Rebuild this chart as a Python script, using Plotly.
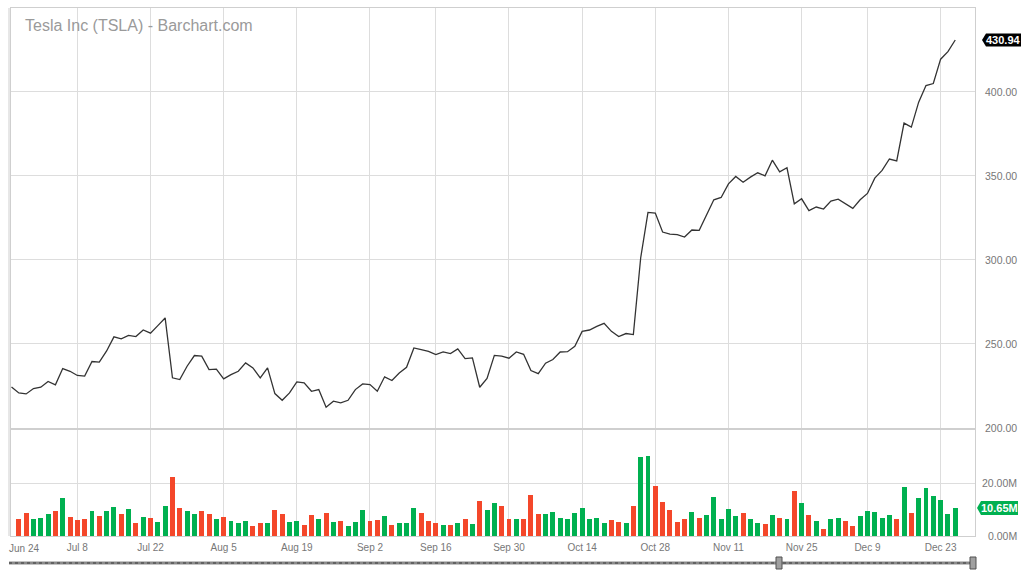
import pandas as pd
import plotly.graph_objects as go

# ---------------- data ----------------
title_text = "Tesla Inc (TSLA) - Barchart.com"
holidays = ["2024-07-04", "2024-09-02", "2024-11-28", "2024-12-25"]
all_days = pd.bdate_range("2024-06-24", "2024-12-26")
dates = [d for d in all_days if d.strftime("%Y-%m-%d") not in holidays]

close = [
    224.2, 220.6, 220.0, 223.2, 224.0, 227.4, 225.4, 235.1, 233.5, 231.0,
    230.6, 239.3, 239.0, 245.6, 254.0, 252.8, 254.9, 254.2, 258.1, 256.2,
    260.7, 265.3, 229.6, 228.6, 236.5, 242.9, 242.5, 234.5, 234.8, 229.0,
    231.5, 233.5, 238.5, 235.5, 229.6, 235.5, 220.2, 216.2, 220.6, 227.2,
    226.6, 221.6, 222.6, 212.1, 215.7, 214.7, 216.2, 222.6, 226.0, 225.6,
    221.6, 230.2, 228.0, 232.5, 235.9, 247.4, 246.4, 245.4, 243.5, 245.0,
    244.0, 246.8, 241.1, 241.5, 224.0, 229.2, 243.0, 242.5, 241.3, 245.0,
    243.6, 233.9, 232.1, 238.3, 240.5, 245.0, 245.2, 248.4, 257.3, 258.1,
    260.3, 262.1, 257.3, 254.2, 256.0, 255.4, 301.0, 328.2, 327.8, 316.5,
    315.3, 314.9, 313.5, 317.7, 317.5, 326.8, 335.7, 337.1, 345.2, 349.6,
    346.2, 349.2, 351.8, 350.0, 359.3, 352.4, 354.8, 333.3, 336.3, 329.2,
    331.4, 330.2, 334.9, 336.1, 333.3, 330.6, 335.7, 339.5, 348.6, 353.2,
    360.0, 358.9, 381.4, 379.0, 393.9, 403.8, 405.0, 419.5, 424.0, 430.94,
]

volume_m = [
    None, 6.37, 8.66, 6.63, 7.01, 8.28, 9.43, 14.39, 7.39, 6.12,
    6.37, 9.43, 7.77, 9.43, 10.95, 8.28, 10.06, 4.97, 7.39, 7.01,
    5.36, 11.34, 22.53, 10.45, 9.43, 8.28, 9.43, 8.28, 6.37, 7.39,
    5.61, 4.97, 5.61, 3.96, 4.97, 4.97, 9.81, 8.28, 5.36, 5.61,
    4.34, 8.03, 6.63, 8.66, 5.36, 5.61, 3.70, 5.36, 9.81, 5.61,
    5.99, 7.65, 4.34, 4.97, 4.97, 10.45, 8.66, 5.61, 4.97, 4.34,
    4.34, 4.97, 6.63, 4.59, 13.12, 9.81, 12.36, 11.34, 6.37, 6.37,
    6.37, 15.41, 8.28, 8.28, 9.05, 7.01, 6.63, 8.66, 10.45, 6.63,
    7.01, 4.97, 5.99, 5.36, 4.97, 11.34, 29.91, 30.29, 19.10, 12.86,
    9.81, 5.36, 6.63, 9.05, 7.01, 8.03, 14.65, 6.37, 10.06, 7.65,
    8.66, 6.63, 4.97, 4.59, 8.03, 7.01, 6.37, 17.19, 12.48, 8.03,
    5.61, 2.68, 6.37, 7.01, 5.61, 3.96, 7.65, 9.43, 9.05, 7.01,
    8.03, 6.63, 18.46, 8.66, 14.39, 18.08, 15.15, 13.50, 8.41, 10.65,
]

tick_dates = ["2024-06-24", "2024-07-08", "2024-07-22", "2024-08-05", "2024-08-19",
              "2024-09-02", "2024-09-16", "2024-09-30", "2024-10-14", "2024-10-28",
              "2024-11-11", "2024-11-25", "2024-12-09", "2024-12-23"]
tick_labels = ["Jun 24", "Jul 8", "Jul 22", "Aug 5", "Aug 19", "Sep 2", "Sep 16",
               "Sep 30", "Oct 14", "Oct 28", "Nov 11", "Nov 25", "Dec 9", "Dec 23"]
price_ticks = [200, 250, 300, 350, 400]
volume_ticks = [0, 20]

assert len(dates) == len(close) == len(volume_m)

# ---------------- derived ----------------
W, H = 1024, 576
x = list(range(len(dates)))
tick_idx = []
for t in tick_dates:
    ts = pd.Timestamp(t)
    tick_idx.append(next(i for i, d in enumerate(dates) if d >= ts))

GREEN = "#00b050"
RED = "#f4472a"
bar_colors = [GREEN] + [GREEN if close[i] >= close[i - 1] else RED for i in range(1, len(close))]

GRID = "#dddddd"
FRAME = "#cfcfcf"
LABEL = "#777777"
FONT = "Liberation Sans, Arial, sans-serif"

def px_x(p):
    return p / W

def px_y(p):
    return 1 - p / H

x_dom = [px_x(11), px_x(975)]
x_range = [-0.07, 131.7]

fig = go.Figure()
fig.add_trace(go.Scatter(x=x, y=close, mode="lines",
                         line=dict(color="#333333", width=1.3),
                         xaxis="x", yaxis="y", hoverinfo="skip", showlegend=False))
fig.add_trace(go.Bar(x=x, y=volume_m, marker=dict(color=bar_colors, line=dict(width=0)),
                     width=0.68, xaxis="x2", yaxis="y2", hoverinfo="skip", showlegend=False))

common_x = dict(domain=x_dom, range=x_range, tickmode="array", tickvals=tick_idx,
                showgrid=True, gridcolor=GRID, gridwidth=1, zeroline=False,
                showline=True, linecolor=FRAME, linewidth=1, mirror=True, ticks="",
                fixedrange=True)

annotations = []
# title
annotations.append(dict(text=title_text, x=px_x(23), y=px_y(25), xref="paper", yref="paper",
                        xanchor="left", yanchor="middle", showarrow=False,
                        font=dict(family=FONT, size=16, color="#9a9a9a")))
# price axis labels (right aligned)
for v in price_ticks:
    annotations.append(dict(text=f"{v:.2f}", x=px_x(1019), y=v, xref="paper", yref="y",
                            xanchor="right", yanchor="middle", showarrow=False,
                            font=dict(family=FONT, size=10.5, color=LABEL)))
for v in volume_ticks:
    annotations.append(dict(text=f"{v:.2f}M", x=px_x(1019), y=v, xref="paper", yref="y2",
                            xanchor="right", yanchor="middle", showarrow=False,
                            font=dict(family=FONT, size=10.5, color=LABEL)))
# first date label (shifted inside, like the original)
annotations.append(dict(text=tick_labels[0], x=px_x(24), y=px_y(548), xref="paper", yref="paper",
                        xanchor="center", yanchor="middle", showarrow=False,
                        font=dict(family=FONT, size=10, color=LABEL)))
# last value tags
annotations.append(dict(text=f"<b>{close[-1]:.2f}</b>", x=px_x(1003.5), y=close[-1],
                        xref="paper", yref="y", xanchor="center", yanchor="middle",
                        showarrow=False, font=dict(family=FONT, size=11, color="white")))
annotations.append(dict(text=f"<b>{volume_m[-1]:.2f}M</b>", x=px_x(999.5), y=volume_m[-1],
                        xref="paper", yref="y2", xanchor="center", yanchor="middle",
                        showarrow=False, font=dict(family=FONT, size=11, color="white")))

shapes = []
# price tag
shapes.append(dict(type="path", xref="paper", yref="y", xsizemode="pixel", ysizemode="pixel",
                   xanchor=px_x(982), yanchor=close[-1],
                   path="M0,0 L4,6.5 L39,6.5 L39,-6.5 L4,-6.5 Z",
                   fillcolor="black", line=dict(width=0), layer="above"))
# volume tag
shapes.append(dict(type="path", xref="paper", yref="y2", xsizemode="pixel", ysizemode="pixel",
                   xanchor=px_x(977), yanchor=volume_m[-1],
                   path="M0,0 L4,7 L41,7 L41,-7 L4,-7 Z",
                   fillcolor=GREEN, line=dict(width=0), layer="above"))
# outer left frame line
shapes.append(dict(type="line", xref="paper", yref="paper", x0=px_x(9), x1=px_x(9),
                   y0=px_y(8), y1=px_y(536), line=dict(color=FRAME, width=1)))
# navigator
shapes.append(dict(type="line", xref="paper", yref="paper", x0=px_x(9), x1=px_x(976),
                   y0=px_y(563), y1=px_y(563), line=dict(color="#8a8a8a", width=3)))
shapes.append(dict(type="line", xref="paper", yref="paper", x0=px_x(9), x1=px_x(976),
                   y0=px_y(563), y1=px_y(563), line=dict(color="#3a3a3a", width=1, dash="dot")))
for hx in (779, 973):
    shapes.append(dict(type="rect", xref="paper", yref="paper",
                       x0=px_x(hx - 3), x1=px_x(hx + 3), y0=px_y(569), y1=px_y(557),
                       fillcolor="#a0a0a0", line=dict(color="#505050", width=1)))

fig.update_layout(
    width=W, height=H,
    margin=dict(l=0, r=0, t=0, b=0),
    paper_bgcolor="white", plot_bgcolor="white",
    showlegend=False, bargap=0,
    font=dict(family=FONT, color=LABEL),
    xaxis=dict(anchor="y", showticklabels=False, **common_x),
    yaxis=dict(domain=[px_y(427.5), px_y(8)], range=[200, 450], anchor="x",
               tickmode="array", tickvals=price_ticks, showticklabels=False,
               showgrid=True, gridcolor=GRID, zeroline=False, showline=True,
               linecolor=FRAME, mirror=True, fixedrange=True),
    xaxis2=dict(anchor="y2", showticklabels=True, ticktext=[""] + tick_labels[1:],
                tickfont=dict(family=FONT, size=10, color=LABEL), ticklabelstandoff=2,
                **common_x),
    yaxis2=dict(domain=[px_y(536), px_y(430)], range=[0, 40.2], anchor="x2",
                tickmode="array", tickvals=volume_ticks, showticklabels=False,
                showgrid=True, gridcolor=GRID, zeroline=False, showline=True,
                linecolor=FRAME, mirror=True, fixedrange=True),
    annotations=annotations,
    shapes=shapes,
)

fig.write_html("out.html", config={"displayModeBar": False},
               post_script="document.body.style.margin='0';document.body.style.overflow='hidden';")
